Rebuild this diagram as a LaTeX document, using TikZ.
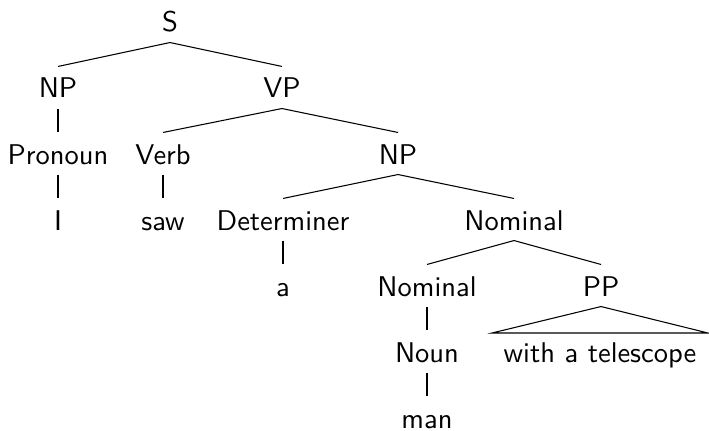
\documentclass[tikz,border=0pt]{standalone}
\begin{document}
\begin{tikzpicture}[x=0.375pt,y=-0.375pt,
  lbl/.style={anchor=base,inner sep=0pt,text height=11.625pt,text depth=3.75pt,
    font=\sffamily\fontsize{10.7pt}{12.8pt}\selectfont},
  branch/.style={line width=0.4pt}]
\useasboundingbox (0,0) rectangle (709,431);
% tree nodes, placed on their baselines
\node[lbl] (S)    at (170,32)  {S};
\node[lbl] (NP)   at (58,98)   {NP};
\node[lbl] (VP)   at (282,98)  {VP};
\node[lbl] (Pron) at (58,164)  {Pronoun};
\node[lbl] (Verb) at (163,164) {Verb};
\node[lbl] (NPb)  at (398,164) {NP};
\node[lbl] (I)    at (58,230)  {I};
\node[lbl] (saw)  at (163,230) {saw};
\node[lbl] (Det)  at (283,230) {Determiner};
\node[lbl] (Nom)  at (514,230) {Nominal};
\node[lbl] (a)    at (283,296) {a};
\node[lbl] (Nomb) at (427,296) {Nominal};
\node[lbl] (PP)   at (601,296) {PP};
\node[lbl] (Noun) at (427,362) {Noun};
\node[lbl] (tel)  at (600,362) {with a telescope};
\node[lbl] (man)  at (427,428) {man};
% branches
\draw[branch] (S.south) -- (NP.north);
\draw[branch] (S.south) -- (VP.north);
\draw[branch] (NP.south) -- (Pron.north);
\draw[branch] (Pron.south) -- (I.north);
\draw[branch] (VP.south) -- (Verb.north);
\draw[branch] (VP.south) -- (NPb.north);
\draw[branch] (Verb.south) -- (saw.north);
\draw[branch] (NPb.south) -- (Det.north);
\draw[branch] (NPb.south) -- (Nom.north);
\draw[branch] (Det.south) -- (a.north);
\draw[branch] (Nom.south) -- (Nomb.north);
\draw[branch] (Nom.south) -- (PP.north);
\draw[branch] (Nomb.south) -- (Noun.north);
\draw[branch] (Noun.south) -- (man.north);
% roof over the unanalysed phrase
\coordinate (roofL) at (492,333);
\coordinate (roofR) at (708,333);
\draw[branch] (PP.south) -- (roofL) -- (roofR) -- cycle;
\end{tikzpicture}
\end{document}
